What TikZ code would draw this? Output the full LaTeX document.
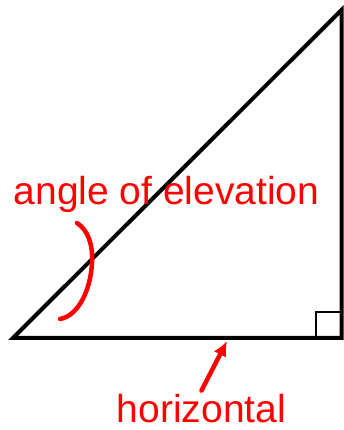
\documentclass[tikz,border=0pt]{standalone}
\usepackage{fontspec}
\setmainfont{Liberation Sans}
\usetikzlibrary{arrows.meta}

\begin{document}
\begin{tikzpicture}[x=1pt, y=1pt, >={Latex[length=15pt,width=14pt]},
    side/.style={line width=4pt, line join=miter},
    rtbox/.style={line width=2.5pt},
    lbl/.style={text=red, inner sep=0pt, font=\fontsize{39}{47}\selectfont},
    redline/.style={red, line width=4.5pt, line cap=round}]
    \useasboundingbox (0,0) rectangle (343,430);
    % triangle
    \coordinate (lft) at (13,92);
    \coordinate (rgt) at (341.5,92);
    \coordinate (top) at (341.5,420);
    \draw [side] (lft) -- (rgt) -- (top) -- cycle;
    \draw [rtbox] (316,92) |- (341.5,118);
    % labels
    \node [lbl, anchor=base] (aoe) at (166.5,225) {angle of elevation};
    \node [lbl, anchor=base] (hor) at (201.5,8) {horizontal};
    \coordinate (hz) at (227,89);
    \draw [redline, ->] ([yshift=3pt]hor.north) -- (hz);
    \coordinate (arcA) at (77,207);
    \coordinate (arcB) at (92,168);
    \coordinate (arcC) at (60,111);
    \draw [redline] (arcA) .. controls (88,200) and (93,185) .. (arcB)
        .. controls (91,140) and (78,114) .. (arcC);
\end{tikzpicture}
\end{document}
